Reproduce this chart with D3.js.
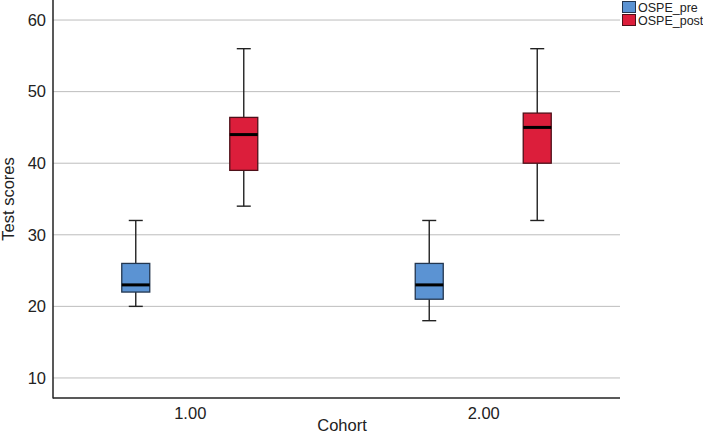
<!DOCTYPE html>
<html><head><meta charset="utf-8">
<script src="https://cdn.jsdelivr.net/npm/d3@7"></script>
<style>body{margin:0;background:#fff}svg{display:block;font-family:"Liberation Sans",Arial,sans-serif}</style>
</head><body><svg id="c" width="703" height="434"></svg>
<script>
const cohorts = ["1.00", "2.00"];
const seriesNames = ["OSPE_pre", "OSPE_post"];
const seriesColors = ["#5b93d3", "#dc1e3b"];
const seriesStroke = ["#23364f", "#4f1019"];
// [whiskerLow, q1, median, q3, whiskerHigh] per cohort
const preStats  = [[20, 22, 23, 26, 32], [18, 21, 23, 26, 32]];
const postStats = [[34, 39, 44, 46.4, 56], [32, 40, 45, 47, 56]];
const yTicks = [10, 20, 30, 40, 50, 60];

const svg = d3.select("#c");
const L = 53, R = 620, T = 0, B = 398;
const y = d3.scaleLinear().domain([7.2, 62.8]).range([B, T]);
const x = d3.scalePoint().domain(cohorts).range([L, R]).padding(0.466);
const sub = d3.scalePoint().domain(seriesNames).range([-54, 54]);
const bw = 28, cap = 7;
const FS = 16.5;

svg.append("g").selectAll("line").data(yTicks).join("line")
  .attr("x1", L).attr("x2", R).attr("y1", d => y(d)).attr("y2", d => y(d))
  .attr("stroke", "#bdbdbd").attr("stroke-width", 1);

const ya = svg.append("g").attr("transform", `translate(${L},0)`)
  .call(d3.axisLeft(y).tickValues(yTicks).tickSize(0).tickPadding(7));
ya.select(".domain").remove();
ya.selectAll("text").attr("font-size", FS).attr("fill", "#222").attr("font-family", "Liberation Sans, Arial, sans-serif");

const xa = svg.append("g").attr("transform", `translate(0,${B})`)
  .call(d3.axisBottom(x).tickSize(0).tickPadding(9));
xa.select(".domain").remove();
xa.selectAll("text").attr("font-size", FS).attr("fill", "#222").attr("font-family", "Liberation Sans, Arial, sans-serif");

svg.append("line").attr("x1", L).attr("x2", L).attr("y1", T).attr("y2", B + 0.5).attr("stroke", "#222").attr("stroke-width", 1.5);
svg.append("line").attr("x1", L).attr("x2", R).attr("y1", B).attr("y2", B).attr("stroke", "#222").attr("stroke-width", 1.5);

svg.append("text").attr("x", 342).attr("y", 431).attr("text-anchor", "middle")
  .attr("font-size", FS).attr("fill", "#222").text("Cohort");
svg.append("text").attr("transform", "translate(14,199) rotate(-90)").attr("text-anchor", "middle")
  .attr("font-size", FS).attr("fill", "#222").text("Test scores");

const allStats = [preStats, postStats];
seriesNames.forEach((s, si) => {
  const g = svg.append("g");
  cohorts.forEach((c, ci) => {
    const [lo, q1, med, q3, hi] = allStats[si][ci];
    const cx = x(c) + sub(s);
    const st = "#222";
    g.append("line").attr("x1", cx).attr("x2", cx).attr("y1", y(hi)).attr("y2", y(q3)).attr("stroke", st).attr("stroke-width", 1.4);
    g.append("line").attr("x1", cx).attr("x2", cx).attr("y1", y(q1)).attr("y2", y(lo)).attr("stroke", st).attr("stroke-width", 1.4);
    g.append("line").attr("x1", cx - cap).attr("x2", cx + cap).attr("y1", y(hi)).attr("y2", y(hi)).attr("stroke", st).attr("stroke-width", 1.4);
    g.append("line").attr("x1", cx - cap).attr("x2", cx + cap).attr("y1", y(lo)).attr("y2", y(lo)).attr("stroke", st).attr("stroke-width", 1.4);
    g.append("rect").attr("x", cx - bw / 2).attr("y", y(q3)).attr("width", bw).attr("height", y(q1) - y(q3))
      .attr("fill", seriesColors[si]).attr("stroke", seriesStroke[si]).attr("stroke-width", 1.3);
    g.append("line").attr("x1", cx - bw / 2).attr("x2", cx + bw / 2).attr("y1", y(med)).attr("y2", y(med)).attr("stroke", "#000").attr("stroke-width", 3);
  });
});

const lg = svg.append("g").attr("transform", "translate(622,0)");
seriesNames.forEach((s, i) => {
  const row = lg.append("g").attr("transform", `translate(0,${i * 13})`);
  row.append("rect").attr("x", 0.5).attr("y", 1.5).attr("width", 13).attr("height", 11)
    .attr("fill", seriesColors[i]).attr("stroke", seriesStroke[i]).attr("stroke-width", 1);
  row.append("text").attr("x", 16).attr("y", 11.5).attr("font-size", 12.5).attr("fill", "#222").text(s);
});
</script></body></html>
